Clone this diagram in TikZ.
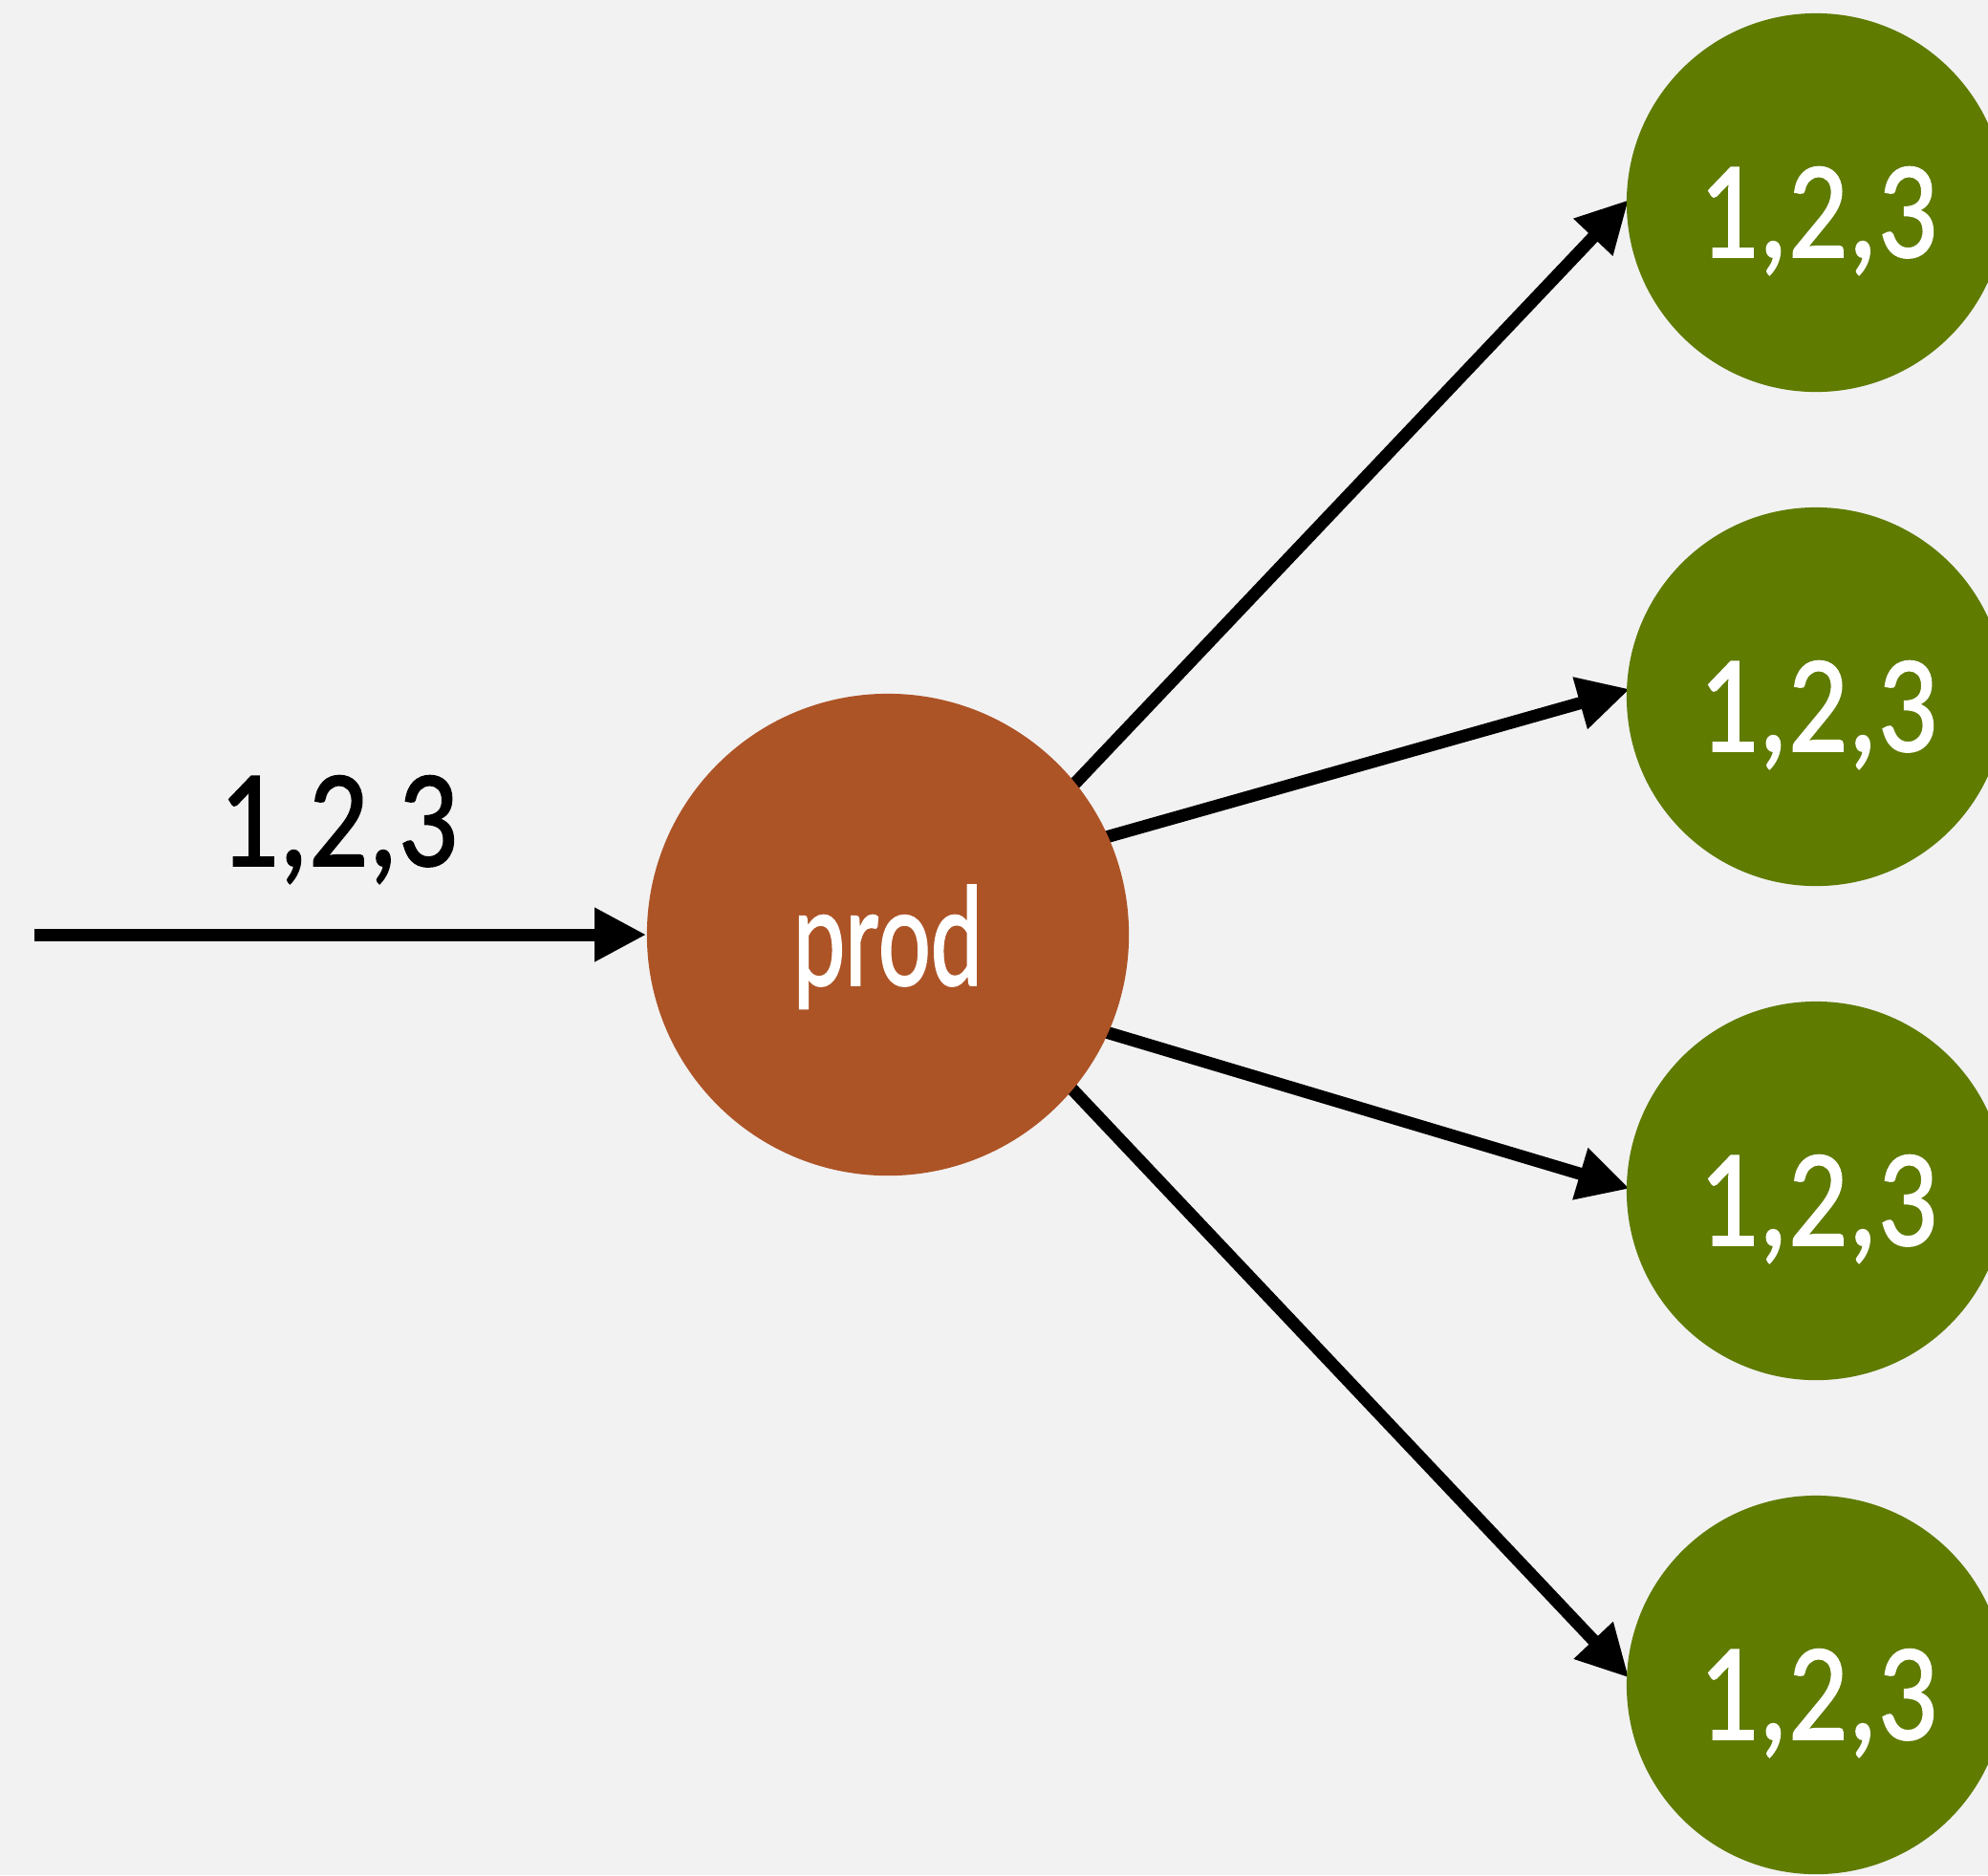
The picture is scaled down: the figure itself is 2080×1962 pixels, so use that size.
\documentclass[tikz,border=0pt]{standalone}
\usepackage{fontspec}
\setmainfont{Carlito}
\newfontfamily\heavy{Carlito}[FakeBold=1.2]
\usetikzlibrary{arrows.meta}
\definecolor{paper}{HTML}{F2F2F2}
\definecolor{rust}{HTML}{AD5427}
\definecolor{olive}{HTML}{5F7B00}
\pgfdeclarelayer{paperlayer}
\pgfdeclarelayer{links}
\pgfsetlayers{paperlayer,links,main}
\begin{document}
\begin{tikzpicture}[x=0.01cm, y=-0.01cm,
  hub/.style={circle, fill=rust, minimum size=5.04cm, inner sep=0pt},
  leaf/.style={circle, fill=olive, minimum size=3.96cm, inner sep=0pt},
  num/.style={font=\heavy\fontsize{41.4}{45}\selectfont, inner sep=0pt, anchor=base},
  word/.style={font=\heavy\fontsize{43}{47}\selectfont, inner sep=0pt, anchor=base},
  feed/.style={line width=0.13cm, -{Triangle[length=0.54cm,width=0.53cm]}},
  link/.style={feed, shorten <=-0.2cm, shorten >=-0.04cm}
]
\useasboundingbox (0,0) rectangle (2080,1962);
\begin{pgfonlayer}{paperlayer}
  \fill[paper] (0,0) rectangle (2080,1962);
\end{pgfonlayer}

% operator and its four outputs
\node[hub] (prod) at (929,978) {};
\node[leaf] (out1) at (1900,212) {};
\node[leaf] (out2) at (1900,729) {};
\node[leaf] (out3) at (1900,1246) {};
\node[leaf] (out4) at (1900,1763) {};

% texts
\node[word, text=white] (prodtxt) at (929,1031) {\scalebox{0.69}[1]{prod}};
\node[num] (inlbl) at (354,906) {\scalebox{0.85}[1]{1,2,3}};
\node[num, text=white] (lbl1) at (1902,269) {\scalebox{0.85}[1]{1,2,3}};
\node[num, text=white] (lbl2) at (1902,786) {\scalebox{0.85}[1]{1,2,3}};
\node[num, text=white] (lbl3) at (1902,1303) {\scalebox{0.85}[1]{1,2,3}};
\node[num, text=white] (lbl4) at (1902,1820) {\scalebox{0.85}[1]{1,2,3}};

% connectors, kept under the circles
\coordinate (src) at (36,978);
\begin{pgfonlayer}{links}
  \draw[feed] (src) -- (prod.west);
  \draw[link] (prod.39) -- (out1.west);
  \draw[link] (prod.24) -- (out2.178.3);
  \draw[link] (prod.-24.5) -- (out3.179.4);
  \draw[link] (prod.-40) -- (out4.177.7);
\end{pgfonlayer}
\end{tikzpicture}
\end{document}
